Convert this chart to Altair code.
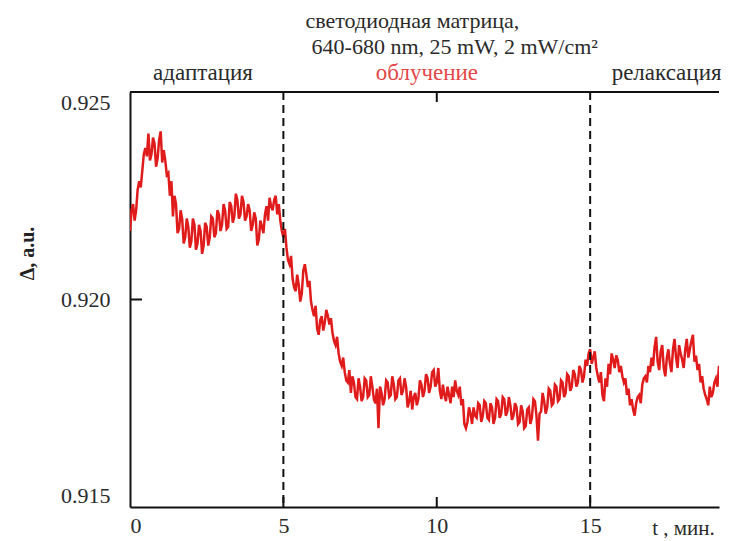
import altair as alt
import pandas as pd

# ---- data ----
t_min = [round(i * 0.05, 2) for i in range(391)]  # sampling grid, 0.00 ... 19.50 min
delta = [
    0.92165, 0.92215, 0.92230, 0.92190, 0.92215, 0.92265, 0.92285, 0.92270, 0.92310, 0.92350,
    0.92365, 0.92345, 0.92400, 0.92335, 0.92350, 0.92390, 0.92375, 0.92320, 0.92340, 0.92385,
    0.92405, 0.92330, 0.92360, 0.92335, 0.92300, 0.92305, 0.92250, 0.92285, 0.92200, 0.92250,
    0.92230, 0.92160, 0.92170, 0.92215, 0.92195, 0.92135, 0.92150, 0.92195, 0.92175, 0.92125,
    0.92140, 0.92195, 0.92180, 0.92120, 0.92135, 0.92180, 0.92165, 0.92110, 0.92130, 0.92185,
    0.92175, 0.92130, 0.92150, 0.92200, 0.92195, 0.92150, 0.92160, 0.92215, 0.92205, 0.92165,
    0.92180, 0.92230, 0.92215, 0.92170, 0.92175, 0.92235, 0.92225, 0.92185, 0.92200, 0.92255,
    0.92240, 0.92195, 0.92205, 0.92250, 0.92235, 0.92190, 0.92200, 0.92230, 0.92215, 0.92165,
    0.92180, 0.92210, 0.92195, 0.92130, 0.92145, 0.92190, 0.92175, 0.92160, 0.92205, 0.92225,
    0.92190, 0.92245, 0.92225, 0.92215, 0.92240, 0.92250, 0.92205, 0.92230, 0.92190, 0.92165,
    0.92150, 0.92170, 0.92125, 0.92095, 0.92085, 0.92105, 0.92050, 0.92030, 0.92020, 0.92060,
    0.92035, 0.91995, 0.92015, 0.92070, 0.92085, 0.92060, 0.92030, 0.92045, 0.91995, 0.91975,
    0.91960, 0.91985, 0.91930, 0.91915, 0.91950, 0.91960, 0.91925, 0.91945, 0.91975, 0.91960,
    0.91940, 0.91955, 0.91920, 0.91900, 0.91890, 0.91910, 0.91870, 0.91850, 0.91840, 0.91860,
    0.91825, 0.91805, 0.91800, 0.91830, 0.91775, 0.91815, 0.91800, 0.91765, 0.91760, 0.91810,
    0.91790, 0.91755, 0.91765, 0.91810, 0.91805, 0.91765, 0.91770, 0.91815, 0.91790, 0.91760,
    0.91750, 0.91785, 0.91690, 0.91790, 0.91775, 0.91745, 0.91760, 0.91805, 0.91800, 0.91765,
    0.91770, 0.91815, 0.91795, 0.91760, 0.91765, 0.91805, 0.91810, 0.91770, 0.91780, 0.91810,
    0.91790, 0.91740, 0.91755, 0.91780, 0.91735, 0.91765, 0.91775, 0.91745, 0.91760, 0.91805,
    0.91795, 0.91765, 0.91780, 0.91820, 0.91810, 0.91775, 0.91790, 0.91825, 0.91830, 0.91790,
    0.91800, 0.91835, 0.91780, 0.91760, 0.91795, 0.91770, 0.91755, 0.91790, 0.91770, 0.91750,
    0.91790, 0.91765, 0.91805, 0.91780, 0.91770, 0.91790, 0.91745, 0.91760, 0.91700, 0.91690,
    0.91705, 0.91740, 0.91725, 0.91700, 0.91740, 0.91720, 0.91715, 0.91750, 0.91745, 0.91705,
    0.91720, 0.91755, 0.91750, 0.91715, 0.91710, 0.91750, 0.91740, 0.91700, 0.91715, 0.91760,
    0.91755, 0.91715, 0.91725, 0.91765, 0.91760, 0.91720, 0.91730, 0.91765, 0.91745, 0.91710,
    0.91720, 0.91750, 0.91740, 0.91700, 0.91705, 0.91745, 0.91730, 0.91690, 0.91695, 0.91735,
    0.91740, 0.91700, 0.91715, 0.91760, 0.91755, 0.91720, 0.91660, 0.91725, 0.91730, 0.91775,
    0.91755, 0.91725, 0.91740, 0.91785, 0.91780, 0.91745, 0.91750, 0.91795, 0.91790, 0.91755,
    0.91760, 0.91805, 0.91800, 0.91765, 0.91775, 0.91820, 0.91815, 0.91780, 0.91790, 0.91830,
    0.91820, 0.91790, 0.91800, 0.91840, 0.91830, 0.91800, 0.91815, 0.91855, 0.91840, 0.91870,
    0.91880, 0.91845, 0.91860, 0.91875, 0.91835, 0.91815, 0.91800, 0.91825, 0.91770, 0.91755,
    0.91810, 0.91790, 0.91845, 0.91820, 0.91870, 0.91855, 0.91835, 0.91865, 0.91855, 0.91825,
    0.91840, 0.91815, 0.91800, 0.91810, 0.91770, 0.91785, 0.91745, 0.91760, 0.91735, 0.91720,
    0.91750, 0.91765, 0.91770, 0.91750, 0.91795, 0.91810, 0.91815, 0.91800, 0.91840, 0.91825,
    0.91860, 0.91840, 0.91885, 0.91910, 0.91850, 0.91830, 0.91875, 0.91890, 0.91835, 0.91815,
    0.91860, 0.91880, 0.91845, 0.91825, 0.91880, 0.91905, 0.91860, 0.91835, 0.91890, 0.91870,
    0.91855, 0.91835, 0.91880, 0.91905, 0.91860, 0.91880, 0.91900, 0.91915, 0.91850, 0.91865,
    0.91830, 0.91845, 0.91800, 0.91815, 0.91785, 0.91770, 0.91760, 0.91745, 0.91790, 0.91765,
    0.91775, 0.91800, 0.91810, 0.91790, 0.91840, 0.91820, 0.91860, 0.91845, 0.91875, 0.91860,
    0.91880,
]
phase_bounds = [5, 15]
x_tick_values = [0, 5, 10, 15]
y_tick_values = [0.915, 0.920, 0.925]
bottom_inner_ticks = [5, 10, 15]
top_inner_ticks = [10]
left_inner_ticks = [0.920]

W, H = 589, 415
FONT = "Liberation Serif"
TXT = "#2a2a2a"

df = pd.DataFrame({"t": t_min, "d": delta})
xs = alt.Scale(domain=[0, 19.2], nice=False, zero=False)
ys = alt.Scale(domain=[0.915, 0.925], nice=False, zero=False)

xaxis = alt.Axis(
    values=x_tick_values, ticks=False, grid=False, domainColor="#111", domainWidth=2,
    labelFont=FONT, labelFontSize=22, labelColor=TXT, labelPadding=8, labelFlush=True,
    title="t , мин.", titleFont=FONT, titleFontSize=21, titleFontWeight="normal",
    titleColor=TXT, titleX=553, titleY=27, titleAlign="center", titleBaseline="alphabetic")
yaxis = alt.Axis(
    values=y_tick_values, format=".3f", ticks=False, grid=False, domainColor="#111",
    domainWidth=2, labelFont=FONT, labelFontSize=22, labelColor=TXT, labelPadding=20,
    labelFlush=True, title="Δ, a.u.", titleFont=FONT, titleFontSize=20,
    titleFontWeight="bold", titleColor="#222", titleAngle=270, titleX=-103, titleY=161,
    titleAlign="center", titleBaseline="middle")

X = alt.X("t:Q", scale=xs, axis=xaxis, title="t , мин.")
Y = alt.Y("d:Q", scale=ys, axis=yaxis, title="Δ, a.u.")

line = alt.Chart(df).mark_line(color="#e01b1b", strokeWidth=2.5, clip=True).encode(x=X, y=Y)

vlines = alt.Chart(pd.DataFrame({"t": phase_bounds})).mark_rule(
    color="#111", strokeWidth=2, strokeDash=[8, 5]).encode(
    x=X, y=alt.value(0), y2=alt.value(H))

bticks = alt.Chart(pd.DataFrame({"t": bottom_inner_ticks})).mark_rule(
    color="#111", strokeWidth=2).encode(x=X, y=alt.value(H - 10), y2=alt.value(H))

tticks = alt.Chart(pd.DataFrame({"t": top_inner_ticks})).mark_rule(
    color="#111", strokeWidth=2).encode(x=X, y=alt.value(0), y2=alt.value(10))

lticks = alt.Chart(pd.DataFrame({"d": left_inner_ticks})).mark_rule(
    color="#111", strokeWidth=2).encode(y=Y, x=alt.value(0), x2=alt.value(12))

top_border = alt.Chart(pd.DataFrame({"d": [0.925]})).mark_rule(
    color="#111", strokeWidth=2).encode(y=Y, x=alt.value(0), x2=alt.value(W))


def label(text, t, ypix, color=TXT, align="left", size=22):
    return alt.Chart(pd.DataFrame({"t": [t], "s": [text]})).mark_text(
        font=FONT, fontSize=size, color=color, align=align, baseline="alphabetic",
        clip=False).encode(x=X, y=alt.value(ypix), text="s:N")


texts = [
    label("светодиодная матрица,", 5.72, -64),
    label("640-680 nm, 25 mW, 2 mW/cm²", 5.92, -38),
    label("адаптация", 2.38, -12, align="center", size=23),
    label("облучение", 9.68, -12, color="#e34848", align="center", size=23),
    label("релаксация", 15.7, -12, size=23),
]

chart = alt.layer(line, vlines, bticks, tticks, lticks, top_border, *texts).properties(
    width=W, height=H,
    autosize=alt.AutoSizeParams(type="none"),
    padding={"left": 122, "top": 84, "right": 2, "bottom": 31},
    background="white",
).configure_view(stroke=None)

chart.save("out.html", embed_options={"renderer": "svg", "actions": False})
